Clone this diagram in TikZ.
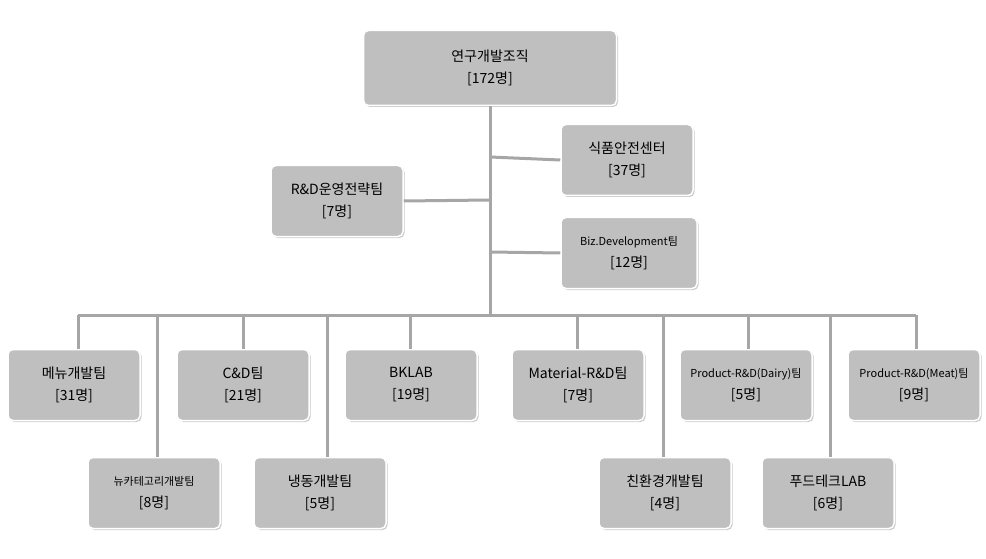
\documentclass[tikz,border=0pt]{standalone}
\usepackage{fontspec}
\setmainfont{Noto Sans CJK KR}
\usetikzlibrary{shadows}
\definecolor{boxg}{HTML}{BFBFBF}
\definecolor{lineg}{HTML}{A6A6A6}
\begin{document}
\begin{tikzpicture}[x=1pt,y=-1pt,
  orgbox/.style={fill=boxg,draw=white,line width=1.5pt,rounded corners=5pt,
    minimum width=132pt,minimum height=71pt,align=center,font=\fontsize{14}{22}\selectfont,
    drop shadow={shadow xshift=1.5pt,shadow yshift=-1.5pt,fill=gray!70,opacity=.6}},
  smallt/.style={font=\fontsize{11}{22}\selectfont},
  link/.style={draw=lineg,line width=3pt}]
\useasboundingbox (0,0) rectangle (986,559);
\node[orgbox,minimum width=253pt,minimum height=75pt] (top) at (490,68) {연구개발조직\\{}[172명]};
\node[orgbox] (food) at (627,160) {식품안전센터\\{}[37명]};
\node[orgbox] (rnd) at (337,201) {R\&D운영전략팀\\{}[7명]};
\node[orgbox,minimum width=136pt] (biz) at (629,253) {{\fontsize{11}{14}\selectfont Biz.Development팀}\\{}[12명]};
\coordinate (jf) at (490,157);
\coordinate (jr) at (490,200);
\coordinate (jb) at (490,252);
\coordinate (bus) at (490,315);
\draw[link] (top.south) -- (bus);
\draw[link] (jf) -- (food.west);
\draw[link] (jr) -- (rnd.east);
\draw[link] (jb) -- (biz.west);
\draw[link] (78,315) -- (916,315);
% row 1
\node[orgbox] (m1) at (74,385) {메뉴개발팀\\{}[31명]};
\node[orgbox] (m2) at (243,385) {C\&D팀\\{}[21명]};
\node[orgbox] (m3) at (411,385) {BKLAB\\{}[19명]};
\node[orgbox] (m4) at (578,385) {Material-R\&D팀\\{}[7명]};
\node[orgbox] (m5) at (746,385) {{\fontsize{11}{14}\selectfont Product-R\&D(Dairy)팀}\\{}[5명]};
\node[orgbox] (m6) at (914,385) {{\fontsize{11}{14}\selectfont Product-R\&D(Meat)팀}\\{}[9명]};
% row 2
\node[orgbox] (n1) at (154,493) {{\fontsize{11}{14}\selectfont 뉴카테고리개발팀}\\{}[8명]};
\node[orgbox] (n2) at (320,493) {냉동개발팀\\{}[5명]};
\node[orgbox] (n3) at (665,493) {친환경개발팀\\{}[4명]};
\node[orgbox] (n4) at (828,493) {푸드테크LAB\\{}[6명]};
\foreach \n/\x in {m1/78,m2/243,m3/410,m4/577,m5/748,m6/916,n1/157,n2/327,n3/663,n4/830}
  \draw[link] (\x,315) -- (\x,0 |- \n.north);
\end{tikzpicture}
\end{document}
